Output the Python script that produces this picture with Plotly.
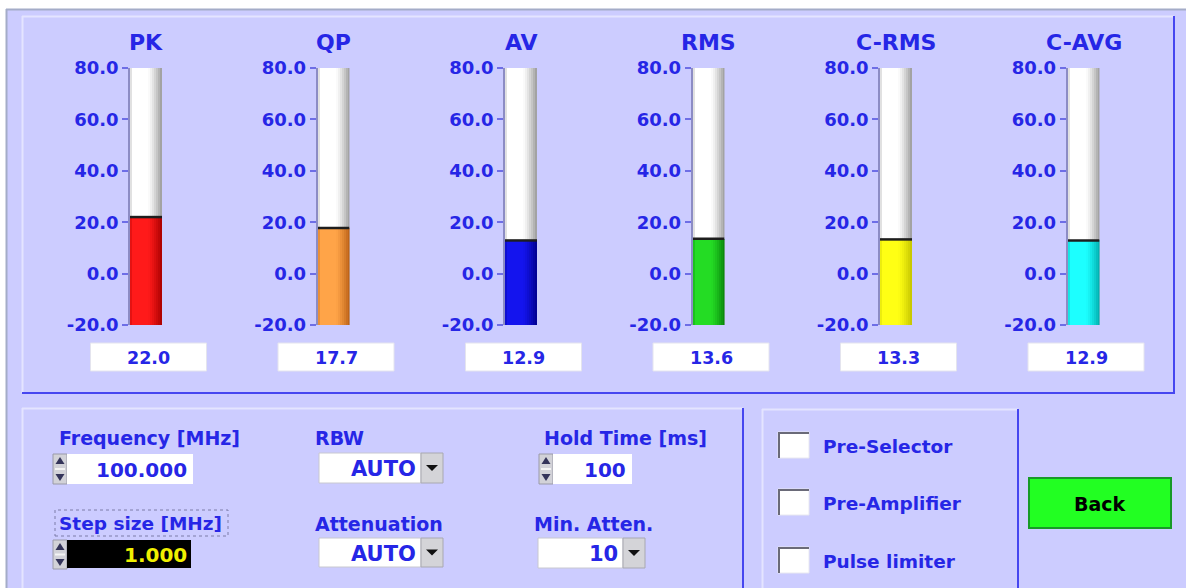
import plotly.graph_objects as go

# ---------------- data ----------------
gauge_names = ["PK", "QP", "AV", "RMS", "C-RMS", "C-AVG"]
gauge_values = [22.0, 17.7, 12.9, 13.6, 13.3, 12.9]
gauge_bright = ["#FF1A1A", "#FFA448", "#1414EE", "#24DC24", "#FFFF14", "#1CFFFF"]
gauge_dark = ["#A80000", "#B85E14", "#00008C", "#07820A", "#C4C400", "#00AAAA"]
tick_values = [-20, 0, 20, 40, 60, 80]
tick_labels = ["-20.0", "0.0", "20.0", "40.0", "60.0", "80.0"]
y_min, y_max = -20, 80

freq_label, freq_value = "Frequency [MHz]", "100.000"
step_label, step_value = "Step size [MHz]", "1.000"
rbw_label, rbw_value = "RBW", "AUTO"
att_label, att_value = "Attenuation", "AUTO"
hold_label, hold_value = "Hold Time [ms]", "100"
minatt_label, minatt_value = "Min. Atten.", "10"
check_labels = ["Pre-Selector", "Pre-Amplifier", "Pulse limiter"]
button_label = "Back"

# ---------------- layout helpers ----------------
W, H = 1186, 588
FONT = "DejaVu Sans"
BLUE = "#2626E6"
LAV = "#CCCCFF"


def X(p):
    return p / W


def Y(p):
    return 1 - p / H


def mix(c1, c2, f):
    a = [int(c1[i:i + 2], 16) for i in (1, 3, 5)]
    b = [int(c2[i:i + 2], 16) for i in (1, 3, 5)]
    return "#%02X%02X%02X" % tuple(round(a[k] + (b[k] - a[k]) * f) for k in range(3))


def shade(t):
    if t < 0.07:
        return 0.3
    if t < 0.55:
        return 0.0
    return min(1.0, ((t - 0.55) / 0.45) ** 1.3)


shapes = []
annotations = []


def rect(x0, y0, x1, y1, fill, line=None, lw=0, layer="below", dash=None):
    ln = dict(width=lw, color=line or fill)
    if dash:
        ln["dash"] = dash
    shapes.append(dict(type="rect", xref="paper", yref="paper", x0=X(x0), x1=X(x1),
                       y0=Y(y1), y1=Y(y0), fillcolor=fill, line=ln, layer=layer))


def hline(x0, x1, y, color, lw=2, layer="below"):
    shapes.append(dict(type="line", xref="paper", yref="paper", x0=X(x0), x1=X(x1),
                       y0=Y(y), y1=Y(y), line=dict(color=color, width=lw), layer=layer))


def vline(x, y0, y1, color, lw=2, layer="below"):
    shapes.append(dict(type="line", xref="paper", yref="paper", x0=X(x), x1=X(x),
                       y0=Y(y0), y1=Y(y1), line=dict(color=color, width=lw), layer=layer))


def tri(cx, cy, w, h, up, color):
    if up:
        pts = [(cx - w / 2, cy + h / 2), (cx + w / 2, cy + h / 2), (cx, cy - h / 2)]
    else:
        pts = [(cx - w / 2, cy - h / 2), (cx + w / 2, cy - h / 2), (cx, cy + h / 2)]
    path = "M " + " L ".join("%f,%f" % (X(a), Y(b)) for a, b in pts) + " Z"
    shapes.append(dict(type="path", xref="paper", yref="paper", path=path,
                       fillcolor=color, line=dict(width=0), layer="above"))


def text(x, y, s, size, color=BLUE, anchor="left"):
    annotations.append(dict(xref="paper", yref="paper", x=X(x), y=Y(y), text=s,
                            showarrow=False, xanchor=anchor, yanchor="middle",
                            font=dict(family=FONT, size=size, color=color, weight="bold")))


def spinner(x0, y0, y1):
    rect(x0, y0, x0 + 14, y1, "#D2D2D8", "#9A9AA8", 1, layer="above")
    cy = (y0 + y1) / 2
    hline(x0 + 2, x0 + 12, cy, "#F4F4F4", 2, layer="above")
    tri(x0 + 7, y0 + 6.5, 9, 7, True, "#34345A")
    tri(x0 + 7, y1 - 6.5, 9, 7, False, "#34345A")


def dropdown(x0, x1, y0, y1, value):
    rect(x0, y0, x1, y1, "#FFFFFF", "#C8C8D0", 1, layer="above")
    rect(x1, y0, x1 + 22, y1, "#D4D4D8", "#A8A8B0", 1, layer="above")
    tri(x1 + 11, (y0 + y1) / 2, 12, 6, False, "#111111")
    text(x1 - 3, (y0 + y1) / 2 + 1, value, 21, anchor="right")


def checkbox(x0, y0, label):
    rect(x0, y0, x0 + 31, y0 + 26, "#FFFFFF", "#E8E8F0", 1, layer="above")
    hline(x0, x0 + 31, y0 + 1, "#6A6A78", 2, layer="above")
    vline(x0 + 1, y0, y0 + 26, "#6A6A78", 2, layer="above")
    text(x0 + 43, y0 + 14, label, 18.5)


# ---------------- panels ----------------
rect(0, 0, W, H, "#FFFFFF")
rect(6, 9, W, H, LAV)
hline(6, W, 9.5, "#A4ACC8", 2)
vline(6.5, 9, H, "#A4ACC8", 2)

# top panel
hline(22, 1174, 16.5, "#E4E4FF", 2)
vline(22.5, 16, 393, "#E4E4FF", 2)
hline(22, 1175, 393, "#4646F0", 2)
vline(1174, 16, 394, "#4646F0", 2)

# bottom-left panel
hline(22, 743, 408.5, "#E4E4FF", 2)
vline(22.5, 408, H, "#E4E4FF", 2)
vline(743, 408, H, "#4646F0", 2)

# bottom-middle panel
hline(762, 1018, 409.5, "#E4E4FF", 2)
vline(762.5, 409, H, "#E4E4FF", 2)
vline(1018, 409, H, "#4646F0", 2)

# ---------------- gauges ----------------
fig = go.Figure()
N = 16
centers = [146, 333.5, 521, 708.5, 896, 1083.5]
layout_axes = {}
for i, (name, val, cb, cd) in enumerate(zip(gauge_names, gauge_values, gauge_bright, gauge_dark)):
    k = "" if i == 0 else str(i + 1)
    c = centers[i]
    xs = [j + 0.5 for j in range(N)]
    track_cols = [mix("#FFFFFF", "#9A9A9A", shade((j + 0.5) / N)) for j in range(N)]
    fill_cols = [mix(cb, cd, shade((j + 0.5) / N)) for j in range(N)]
    fig.add_trace(go.Bar(x=xs, y=[y_max - y_min] * N, base=y_min, width=1.04,
                         marker=dict(color=track_cols, line=dict(width=0)),
                         xaxis="x" + k, yaxis="y" + k, showlegend=False, hoverinfo="skip"))
    fig.add_trace(go.Bar(x=xs, y=[val - y_min] * N, base=y_min, width=1.04,
                         marker=dict(color=fill_cols, line=dict(width=0)),
                         xaxis="x" + k, yaxis="y" + k, showlegend=False, hoverinfo="skip"))
    fig.add_trace(go.Scatter(x=[0, N], y=[val, val], mode="lines",
                             line=dict(color="#1E1E1E", width=2.5),
                             xaxis="x" + k, yaxis="y" + k, showlegend=False, hoverinfo="skip"))
    layout_axes["xaxis" + k] = dict(domain=[X(c - 16), X(c + 16)], range=[0, N], visible=False,
                                    fixedrange=True, anchor="y" + k, automargin=False)
    layout_axes["yaxis" + k] = dict(domain=[Y(325), Y(68)], range=[y_min, y_max],
                                    tickvals=tick_values, ticktext=tick_labels,
                                    showgrid=False, zeroline=False, showline=True,
                                    linecolor="#8C8CC4", linewidth=1.5, ticks="outside",
                                    ticklen=6, tickwidth=1.5, tickcolor="#6E6EE6",
                                    tickfont=dict(family=FONT, size=18, color=BLUE, weight="bold"),
                                    fixedrange=True, anchor="x" + k, automargin=False)
    # title and value display
    text(c, 42.5, name, 22, anchor="center")
    rect(c + 2.5 - 58, 343, c + 2.5 + 58, 371, "#FFFFFF", "#E4E4EE", 1)
    text(c + 2.5, 357.5, "%.1f" % val, 17.5, anchor="center")

# ---------------- controls ----------------
text(57, 438, freq_label, 19)
spinner(53, 454, 484)
rect(67, 454, 193, 484, "#FFFFFF", "#FFFFFF", 0, layer="above")
text(189, 469.5, freq_value, 20, anchor="right")

rect(55, 510, 228, 536, LAV, "#7C7CA8", 1, layer="above", dash="dot")
text(57, 523.5, step_label, 18.5)
spinner(53, 540, 569)
rect(67, 540, 191, 568, "#000000", "#000000", 0, layer="above")
text(189, 554.5, step_value, 20, color="#F0F000", anchor="right")

text(313, 438, rbw_label, 19)
dropdown(319, 421, 453, 483, rbw_value)
text(313, 523.5, att_label, 19)
dropdown(319, 421, 538, 567, att_value)

text(542, 438, hold_label, 19)
spinner(539, 454, 484)
rect(553, 454, 632, 484, "#FFFFFF", "#FFFFFF", 0, layer="above")
text(628, 469.5, hold_value, 20, anchor="right")
text(532, 523.5, minatt_label, 19)
dropdown(538, 623, 538, 568, minatt_value)

for lbl, y0 in zip(check_labels, [432, 489, 547]):
    checkbox(778, y0, lbl)

rect(1029, 478, 1171, 528, "#22FF22", "#189A28", 2, layer="above")
text(1100, 503.5, button_label, 19, color="#000000", anchor="center")

fig.update_layout(width=W, height=H, margin=dict(l=0, r=0, t=0, b=0, autoexpand=False),
                  paper_bgcolor="#FFFFFF", plot_bgcolor="rgba(0,0,0,0)",
                  barmode="overlay", bargap=0, hovermode=False,
                  shapes=shapes, annotations=annotations, **layout_axes)

fig.write_html("out.html", config={"displayModeBar": False, "responsive": False},
               post_script=("document.body.style.margin='0';"
                            "var gd=document.getElementById('{plot_id}');"
                            "gd.style.position='fixed';gd.style.left='0px';gd.style.top='0px';"))
